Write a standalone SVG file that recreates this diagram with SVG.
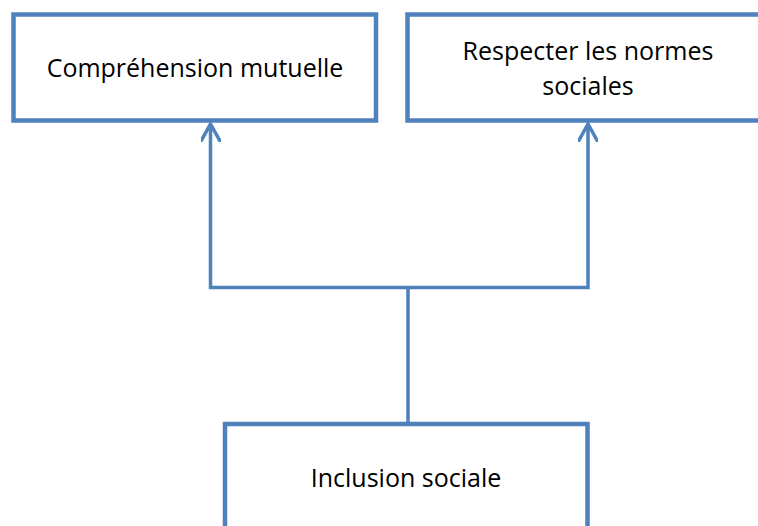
<svg xmlns="http://www.w3.org/2000/svg" width="758" height="526" viewBox="0 0 758 526">
<style>
.box{fill:#fff;stroke:#4F81BD;stroke-width:4.5}
.lbl{font-family:"Open Sans","Liberation Sans",sans-serif;font-size:25px;fill:#000;text-anchor:middle}
.conn{fill:none;stroke:#4F81BD;stroke-width:3.5}
</style>
<defs>
<marker id="arr" viewBox="0 0 20 20" refX="18" refY="10" markerWidth="20" markerHeight="20" markerUnits="userSpaceOnUse" orient="auto">
<path d="M0,0 L18,10 L0,20" fill="none" stroke="#4F81BD" stroke-width="3.5"/>
</marker>
</defs>
<rect width="758" height="526" fill="#fff"/>
<g id="n1">
<rect class="box" x="13.5" y="14.5" width="362.5" height="106"/>
<text class="lbl" x="195" y="77">Compréhension mutuelle</text>
</g>
<g id="n2">
<rect class="box" x="407.5" y="14.5" width="362" height="106"/>
<text class="lbl" x="588" y="60">Respecter les normes</text>
<text class="lbl" x="588" y="95">sociales</text>
</g>
<g id="n3">
<rect class="box" x="225" y="424" width="362.5" height="120"/>
<text class="lbl" x="406" y="487">Inclusion sociale</text>
</g>
<g id="connectors">
<path class="conn" d="M408,422 L408,287.5"/>
<path class="conn" d="M408,287.5 L210.5,287.5 L210.5,124" marker-end="url(#arr)"/>
<path class="conn" d="M408,287.5 L588,287.5 L588,124" marker-end="url(#arr)"/>
</g>
</svg>
